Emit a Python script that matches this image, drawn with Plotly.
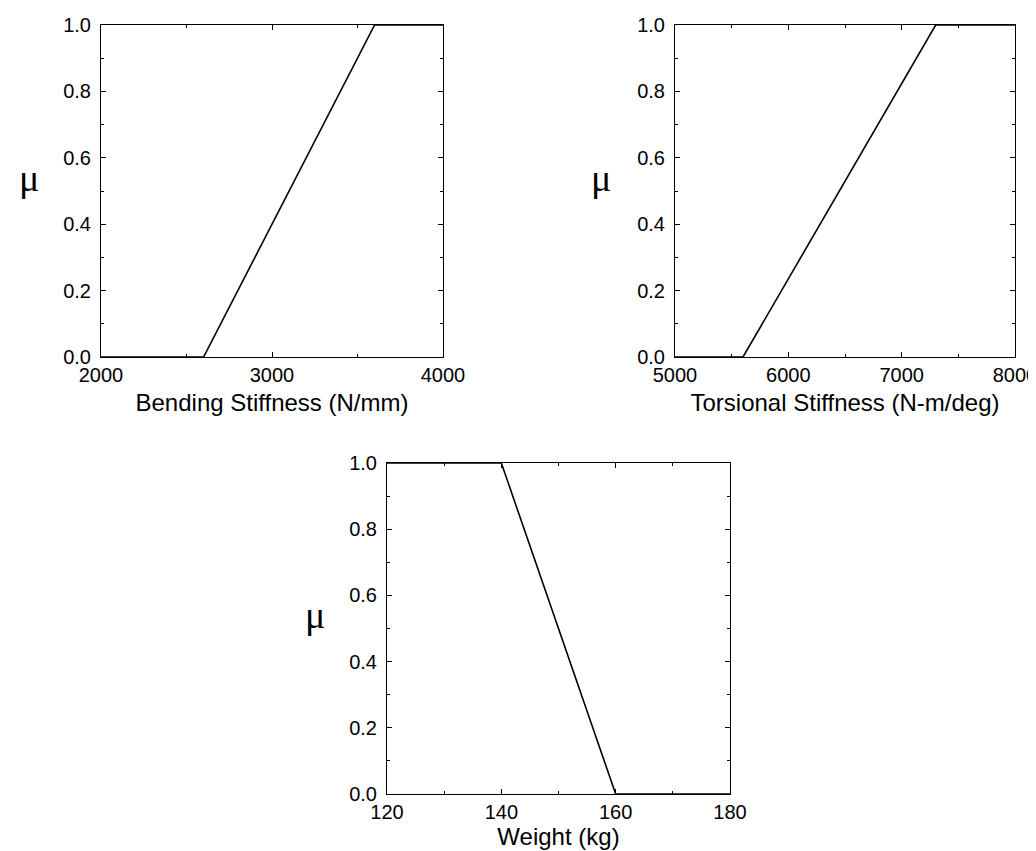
import plotly.graph_objects as go

# Data
bend_x = [2000, 2600, 3600, 4000]
bend_mu = [0, 0, 1, 1]
tors_x = [5000, 5600, 7300, 8000]
tors_mu = [0, 0, 1, 1]
weight_x = [120, 140, 160, 180]
weight_mu = [1, 1, 0, 0]

x_titles = ["Bending Stiffness (N/mm)", "Torsional Stiffness (N-m/deg)", "Weight (kg)"]
x_ranges = [[2000, 4000], [5000, 8000], [120, 180]]
x_dticks = [1000, 1000, 20]
x_minor = [500, 500, 10]
y_label = "μ"

W, H = 1036, 851
# pixel boxes: left, right, top, bottom
boxes = [(93, 435, 17, 349), (667, 1007, 17, 349), (379, 722, 455, 786)]
title_standoff = [9, 9, 5]

fig = go.Figure()
series = [(bend_x, bend_mu), (tors_x, tors_mu), (weight_x, weight_mu)]
SANS = "Liberation Sans, Arial, Helvetica, sans-serif"
tickfont = dict(family=SANS, size=20, color="black")
titlefont = dict(family=SANS, size=24, color="black")

for i, ((xs, ys), (l, r, t, b)) in enumerate(zip(series, boxes)):
    n = "" if i == 0 else str(i + 1)
    fig.add_trace(go.Scatter(x=xs, y=ys, mode="lines",
                             line=dict(color="black", width=1.6),
                             xaxis="x" + n, yaxis="y" + n,
                             showlegend=False, cliponaxis=False, hoverinfo="skip"))
    common = dict(showgrid=False, zeroline=False, showline=True, linecolor="black",
                  linewidth=1, mirror="allticks", ticks="inside", ticklen=5,
                  tickcolor="black", tickwidth=1, tickfont=tickfont, automargin=False)
    fig.layout["xaxis" + n] = dict(
        domain=[l / W, r / W], anchor="y" + n, range=x_ranges[i],
        dtick=x_dticks[i], tick0=x_ranges[i][0], ticklabelstandoff=0,
        minor=dict(dtick=x_minor[i], ticks="inside", ticklen=3, tickcolor="black",
                   showgrid=False),
        title=dict(text=x_titles[i], font=titlefont, standoff=title_standoff[i]),
        **common)
    fig.layout["yaxis" + n] = dict(
        domain=[(H - b) / H, (H - t) / H], anchor="x" + n, range=[0, 1],
        dtick=0.2, tick0=0, tickformat=".1f", ticklabelstandoff=5,
        minor=dict(dtick=0.1, ticks="inside", ticklen=3, tickcolor="black",
                   showgrid=False),
        **common)

mu_pos = [(21, 170), (593, 170), (307, 607)]
for (px, py) in mu_pos:
    fig.add_annotation(text=y_label, x=px / W, y=(H - py) / H, xref="paper", yref="paper",
                       showarrow=False, xanchor="center", yanchor="middle",
                       font=dict(family="Liberation Serif, Times New Roman, serif",
                                 size=38, color="black"))

fig.update_layout(template="none", width=W, height=H,
                  margin=dict(l=0, r=0, t=0, b=0, autoexpand=False),
                  plot_bgcolor="white", paper_bgcolor="white")
fig.write_html("out.html")
